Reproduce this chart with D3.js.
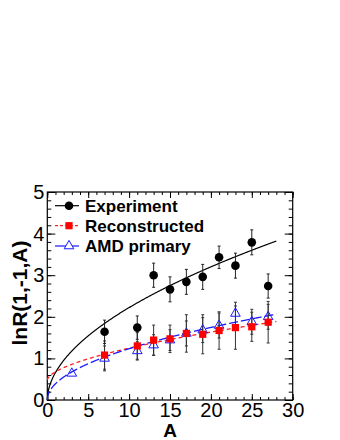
<!DOCTYPE html>
<html>
<head>
<meta charset="utf-8">
<script src="https://cdn.jsdelivr.net/npm/d3@7"></script>
<style>
  body { margin: 0; background: #fff; }
  svg text { font-family: "Liberation Sans", Arial, sans-serif; }
</style>
</head>
<body>
<div id="chart"></div>
<script>
// data
const massA = [7, 11, 13, 15, 17, 19, 21, 23, 25, 27];
const experiment = [1.64, 1.74, 3.0, 2.66, 2.84, 2.96, 3.43, 3.23, 3.79, 2.74];
const experimentErr = [0.28, 0.28, 0.29, 0.3, 0.3, 0.3, 0.27, 0.3, 0.3, 0.29];
const reconstructed = [1.08, 1.3, 1.44, 1.47, 1.6, 1.58, 1.67, 1.74, 1.76, 1.87];
const reconstructedErr = [0.34, 0.32, 0.36, 0.33, 0.45, 0.47, 0.45, 0.52, 0.35, 0.5];
const amdA = [3, 7, 11, 13, 15, 17, 19, 21, 23, 25, 27];
const amdPrimary = [0.64, 1.0, 1.18, 1.32, 1.44, 1.6, 1.68, 1.79, 2.08, 1.88, 2.0];
const amdErr = [0, 0.3, 0.22, 0.25, 0.25, 0.3, 0.3, 0.3, 0.27, 0.3, 0.3];

// fit parameters: p0 + p1 * A^p2
const fitExperiment = [0, 0.66, 0.527];
const fitReconstructed = [0.48, 0.198, 0.588];
const fitAmd = [0, 0.39, 0.5];
const fitRange = [0, 28];

const legendLabels = ["Experiment", "Reconstructed", "AMD primary"];
const xTicks = [0, 5, 10, 15, 20, 25, 30];
const yTicks = [0, 1, 2, 3, 4, 5];

const W = 340, H = 440;
const svg = d3.select("#chart").append("svg")
  .attr("width", W).attr("height", H);
svg.append("rect").attr("width", W).attr("height", H).attr("fill", "#fff");

const x = d3.scaleLinear().domain([0, 30]).range([47.3, 292.7]);
const y = d3.scaleLinear().domain([0, 5]).range([400, 192]);

// axes, ticks inward on all four sides
const minorX = d3.range(0, 30.01, 1);
const minorY = d3.range(0, 5.01, 0.2);
const fmt = d3.format("d");

function tickStyle(g) {
  g.select(".domain").remove();
  g.selectAll("line").attr("stroke", "#000").attr("stroke-width", 1);
  g.selectAll("text").style("font-size", "20px").attr("fill", "#000");
}

svg.append("g").attr("transform", `translate(0,${y(0)})`)
  .call(d3.axisBottom(x).tickValues(minorX).tickSize(-3).tickFormat(""))
  .call(tickStyle);
svg.append("g").attr("transform", `translate(0,${y(0)})`)
  .call(d3.axisBottom(x).tickValues(xTicks).tickSize(-6).tickPadding(3).tickFormat(fmt))
  .call(tickStyle);
svg.append("g").attr("transform", `translate(0,${y(5)})`)
  .call(d3.axisTop(x).tickValues(minorX).tickSize(-3).tickFormat(""))
  .call(tickStyle);
svg.append("g").attr("transform", `translate(0,${y(5)})`)
  .call(d3.axisTop(x).tickValues(xTicks).tickSize(-6).tickFormat(""))
  .call(tickStyle);

svg.append("g").attr("transform", `translate(${x(0)},0)`)
  .call(d3.axisLeft(y).tickValues(minorY).tickSize(-4).tickFormat(""))
  .call(tickStyle);
svg.append("g").attr("transform", `translate(${x(0)},0)`)
  .call(d3.axisLeft(y).tickValues(yTicks).tickSize(-8).tickPadding(3).tickFormat(fmt))
  .call(tickStyle);
svg.append("g").attr("transform", `translate(${x(30)},0)`)
  .call(d3.axisRight(y).tickValues(minorY).tickSize(-4).tickFormat(""))
  .call(tickStyle);
svg.append("g").attr("transform", `translate(${x(30)},0)`)
  .call(d3.axisRight(y).tickValues(yTicks).tickSize(-8).tickFormat(""))
  .call(tickStyle);

svg.append("rect")
  .attr("x", x(0)).attr("y", y(5))
  .attr("width", x(30) - x(0)).attr("height", y(0) - y(5))
  .attr("fill", "none").attr("stroke", "#000").attr("stroke-width", 1.2);

// axis titles
svg.append("text")
  .attr("x", x(15)).attr("y", 437)
  .attr("text-anchor", "middle")
  .attr("font-size", 19).attr("font-weight", "bold")
  .text("A");
svg.append("text")
  .attr("transform", "translate(26.5,293) rotate(-90)")
  .attr("text-anchor", "middle")
  .attr("font-size", 21).attr("font-weight", "bold")
  .text("lnR(1,-1,A)");

// fit curves
const fitA = d3.range(fitRange[0], fitRange[1] + 0.001, 0.05);
const fitLine = p => d3.line()
  .x(a => x(a))
  .y(a => y(p[0] + p[1] * Math.pow(a, p[2])))(fitA);

svg.append("path").attr("d", fitLine(fitExperiment))
  .attr("fill", "none").attr("stroke", "#000").attr("stroke-width", 1.2);
svg.append("path").attr("d", fitLine(fitReconstructed))
  .attr("fill", "none").attr("stroke", "#ff2020").attr("stroke-width", 1.3)
  .attr("stroke-dasharray", "4,3");
svg.append("path").attr("d", fitLine(fitAmd))
  .attr("fill", "none").attr("stroke", "#1a1aff").attr("stroke-width", 1.3)
  .attr("stroke-dasharray", "9,3");

// error bars
function errorBars(xs, vals, errs, color) {
  const g = svg.append("g").attr("stroke", color).attr("stroke-width", 1);
  xs.forEach((a, i) => {
    if (!errs[i]) return;
    const cx = x(a), y1 = y(vals[i] + errs[i]), y2 = y(vals[i] - errs[i]);
    g.append("line").attr("x1", cx).attr("x2", cx).attr("y1", y1).attr("y2", y2);
    g.append("line").attr("x1", cx - 1.5).attr("x2", cx + 1.5).attr("y1", y1).attr("y2", y1);
    g.append("line").attr("x1", cx - 1.5).attr("x2", cx + 1.5).attr("y1", y2).attr("y2", y2);
  });
}
errorBars(massA, reconstructed, reconstructedErr, "#333");
errorBars(amdA, amdPrimary, amdErr, "#333");
errorBars(massA, experiment, experimentErr, "#222");

// markers
const tri = d3.symbol().type(d3.symbolTriangle).size(40);
svg.append("g").selectAll("path").data(amdA).join("path")
  .attr("d", tri)
  .attr("transform", (a, i) => `translate(${x(a)},${y(amdPrimary[i])})`)
  .attr("fill", "none").attr("stroke", "#1a1aff").attr("stroke-width", 1);
svg.append("g").selectAll("rect").data(massA).join("rect")
  .attr("x", a => x(a) - 3.6).attr("width", 7.2).attr("height", 7.2)
  .attr("y", (a, i) => y(reconstructed[i]) - 3.6)
  .attr("fill", "#ff0000");
svg.append("g").selectAll("circle").data(massA).join("circle")
  .attr("cx", a => x(a))
  .attr("cy", (a, i) => y(experiment[i]))
  .attr("r", 4.3).attr("fill", "#000");

// legend
const legendY = [205.7, 225.7, 246];
const leg = svg.append("g");
legendLabels.forEach((label, i) => {
  const ly = legendY[i];
  const line = leg.append("line")
    .attr("x1", 55).attr("x2", 79).attr("y1", ly).attr("y2", ly)
    .attr("stroke-width", 1.2);
  if (i === 0) {
    line.attr("stroke", "#000");
    leg.append("circle").attr("cx", 69).attr("cy", ly).attr("r", 4.3).attr("fill", "#000");
  } else if (i === 1) {
    line.attr("stroke", "#ff2020").attr("stroke-dasharray", "3,2");
    leg.append("rect").attr("x", 65.4).attr("y", ly - 3.6)
      .attr("width", 7.2).attr("height", 7.2).attr("fill", "#ff0000");
  } else {
    line.attr("stroke", "#1a1aff");
    leg.append("path").attr("d", tri).attr("transform", `translate(69,${ly})`)
      .attr("fill", "#fff").attr("stroke", "#1a1aff").attr("stroke-width", 1);
  }
  leg.append("text")
    .attr("x", 85).attr("y", ly + 6.2)
    .attr("font-size", 17).attr("font-weight", "bold")
    .text(label);
});
</script>
</body>
</html>
